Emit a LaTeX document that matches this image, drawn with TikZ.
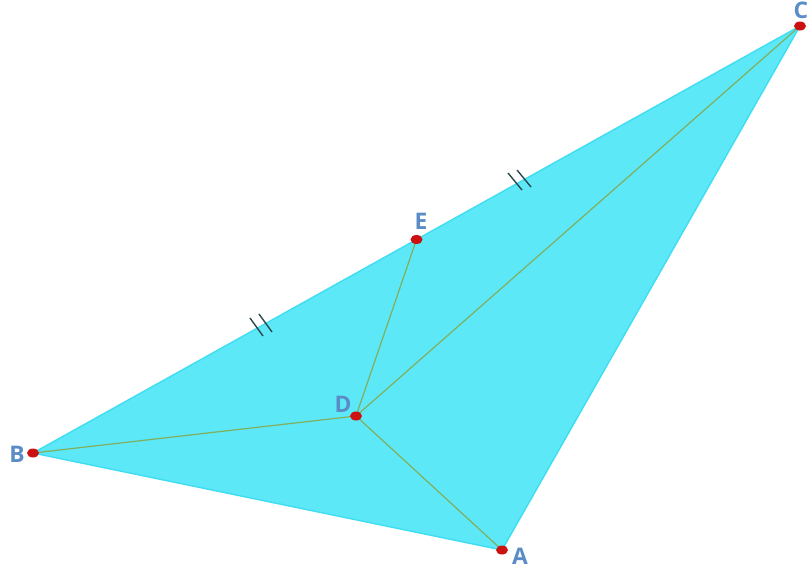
\documentclass[tikz,border=0pt]{standalone}
\usepackage{fontspec}
\setmainfont{Open Sans}
\definecolor{fillc}{HTML}{5DE8F8}
\definecolor{edgec}{HTML}{3FDDF2}
\definecolor{segc}{HTML}{7FB060}
\definecolor{ptc}{HTML}{CC1111}
\definecolor{labc}{HTML}{5A8CC6}
\definecolor{tickc}{HTML}{2A4A50}
\begin{document}
\begin{tikzpicture}[x=0.02cm,y=-0.02cm,
  lab/.style={text=labc,font=\bfseries\fontsize{13}{13}\selectfont,inner sep=0pt},
  seg/.style={draw=segc,line width=0.7pt},
  tick/.style={draw=tickc,line width=0.8pt}]
\useasboundingbox (0,0) rectangle (807,569);
\coordinate (A) at (502,550);
\coordinate (B) at (33,453);
\coordinate (C) at (800,26);
\coordinate (D) at (356,416);
\coordinate (E) at (416.5,239.5);
\fill[fillc] (A) -- (B) -- (C) -- cycle;
\draw[edgec,line width=0.8pt,line join=round] (A) -- (B) -- (C) -- cycle;
\draw[seg] (D) -- (B);
\draw[seg] (D) -- (A);
\draw[seg] (D) -- (C);
\draw[seg] (D) -- (E);
% ticks
\draw[tick] (508,173) -- (522,190);
\draw[tick] (517,170) -- (531,187);
\draw[tick] (250,318) -- (263,336);
\draw[tick] (259,314) -- (272,332);
% points
\foreach \p in {A,B,C,D,E}
  \fill[ptc] (\p) ellipse [x radius=6, y radius=4.5];
\node[lab] (lA) at (520,556) {A};
\node[lab] (lB) at (17,454) {B};
\node[lab] (lC) at (801,10) {C};
\node[lab] (lD) at (343,404) {D};
\node[lab] (lE) at (421,221) {E};
\end{tikzpicture}
\end{document}
